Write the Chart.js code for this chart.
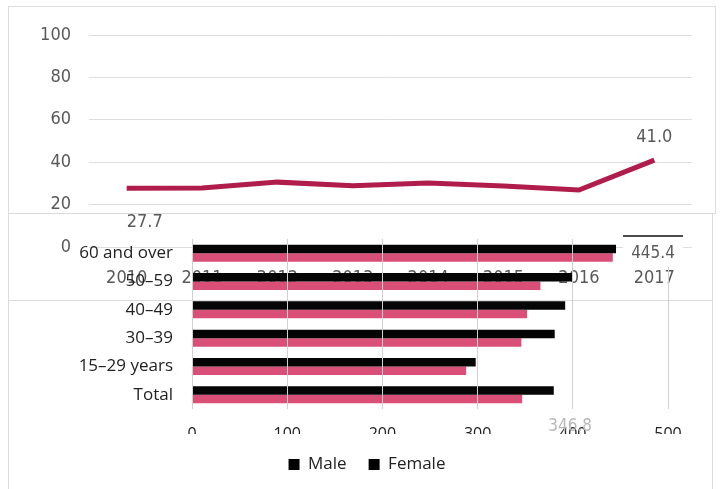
<!DOCTYPE html>
<html>
<head>
<meta charset="utf-8">
<script src="https://cdn.jsdelivr.net/npm/chart.js@4/dist/chart.umd.min.js"></script>
<style>
  body { margin: 0; background: #fff; }
  #wrap { position: relative; width: 723px; height: 489px; overflow: hidden; }
  .frame { position: absolute; border: 1px solid #dcdcdc; box-sizing: border-box; }
  canvas { position: absolute; left: 0; top: 0; }
</style>
</head>
<body>
<div id="wrap">
  <div class="frame" style="left:8px;top:6px;width:708px;height:208px"></div>
  <div class="frame" style="left:8px;top:213px;width:705px;height:88px"></div>
  <div class="frame" style="left:8px;top:300px;width:705px;height:200px;border-top:none"></div>
  <canvas id="lineChart" width="723" height="300" style="width:723px;height:300px"></canvas>
  <canvas id="barChart" width="723" height="489" style="width:723px;height:489px"></canvas>
</div>
<script>
// line chart (top)
const years = ['2010', '2011', '2012', '2013', '2014', '2015', '2016', '2017'];
const rate = [27.7, 27.8, 30.6, 28.9, 30.2, 28.8, 26.9, 41.0];

// bar chart (front)
const groups = ['60 and over', '50–59', '40–49', '30–39', '15–29 years', 'Total'];
const male = [445.4, 400, 392, 381, 298, 380];
const female = [442, 366, 352, 346, 288, 346.8];

const narrow = '"Liberation Sans Narrow", "DejaVu Sans Condensed", sans-serif';
const sans = '"Open Sans", sans-serif';

// draws the two value labels on the line
const lineLabels = {
  id: 'lineLabels',
  afterDatasetsDraw(chart) {
    const pts = chart.getDatasetMeta(0).data;
    const ctx = chart.ctx;
    ctx.save();
    ctx.font = '18px ' + narrow;
    ctx.fillStyle = '#595959';
    ctx.textAlign = 'center';
    ctx.textBaseline = 'middle';
    ctx.fillText(rate[0].toFixed(1), pts[0].x + 18, pts[0].y + 34);
    const last = pts.length - 1;
    ctx.fillText(rate[last].toFixed(1), pts[last].x, pts[last].y - 23);
    ctx.restore();
  }
};

new Chart(document.getElementById('lineChart'), {
  type: 'line',
  data: {
    labels: years,
    datasets: [{
      data: rate,
      borderColor: '#b01c4b',
      borderWidth: 5,
      pointRadius: 0,
      tension: 0
    }]
  },
  options: {
    responsive: false,
    animation: false,
    layout: { padding: { top: 35, left: 0, right: 31, bottom: 12 } },
    plugins: { legend: { display: false }, tooltip: { enabled: false } },
    scales: {
      x: {
        offset: true,
        grid: { display: false },
        border: { display: false },
        ticks: { color: '#595959', font: { size: 18, family: narrow }, padding: 13, maxRotation: 0 },
        afterFit: s => { s.height = 41; }
      },
      y: {
        min: 0, max: 100,
        ticks: { stepSize: 20, color: '#595959', font: { size: 18, family: narrow }, padding: 18 },
        grid: { color: '#dedede', drawTicks: false },
        border: { display: false },
        afterFit: s => { s.width = 89; }
      }
    }
  },
  plugins: [lineLabels]
});

// value labels on the bar chart
const barLabels = {
  id: 'barLabels',
  afterDraw(chart) {
    const ctx = chart.ctx;
    const m = chart.getDatasetMeta(0).data[0];
    const f = chart.getDatasetMeta(1).data[groups.length - 1];
    ctx.save();
    ctx.font = '17px ' + narrow;
    ctx.textAlign = 'center';
    ctx.textBaseline = 'middle';
    ctx.fillStyle = '#fff';
    ctx.fillRect(m.x + 7, m.y - 14, 60, 32);
    ctx.strokeStyle = '#111';
    ctx.lineWidth = 1.5;
    ctx.beginPath();
    ctx.moveTo(m.x + 7, m.y - 13);
    ctx.lineTo(m.x + 67, m.y - 13);
    ctx.stroke();
    ctx.fillStyle = '#595959';
    ctx.fillText(male[0].toFixed(1), m.x + 37, m.y + 5);
    ctx.fillStyle = '#b8b8b8';
    ctx.fillText(female[groups.length - 1].toFixed(1), f.x + 48, f.y + 27);
    ctx.restore();
  }
};

new Chart(document.getElementById('barChart'), {
  type: 'bar',
  data: {
    labels: groups,
    datasets: [
      { label: 'Male', data: male, backgroundColor: '#050505' },
      { label: 'Female', data: female, backgroundColor: '#d94f78' }
    ]
  },
  options: {
    indexAxis: 'y',
    responsive: false,
    animation: false,
    categoryPercentage: 0.6,
    barPercentage: 1,
    layout: { padding: { top: 239, left: 66, right: 55, bottom: 6 } },
    plugins: {
      tooltip: { enabled: false },
      legend: {
        position: 'bottom',
        labels: {
          boxWidth: 11,
          boxHeight: 11,
          padding: 22,
          color: '#222',
          font: { size: 17, family: sans },
          generateLabels: chart => Chart.defaults.plugins.legend.labels.generateLabels(chart)
            .map(l => Object.assign(l, { fillStyle: '#000', strokeStyle: '#000' }))
        }
      }
    },
    scales: {
      x: {
        min: 0, max: 500,
        ticks: { stepSize: 100, color: '#222', font: { size: 16, family: sans }, padding: 16 },
        grid: { color: '#d0d0d0', drawTicks: false, z: 1 },
        border: { display: false },
        afterFit: s => { s.height = 25; }
      },
      y: {
        ticks: { color: '#222', font: { size: 17, family: sans }, padding: 11 },
        grid: { display: false },
        border: { display: false },
        afterFit: s => { s.width = 126; }
      }
    }
  },
  plugins: [barLabels]
});
</script>
</body>
</html>
